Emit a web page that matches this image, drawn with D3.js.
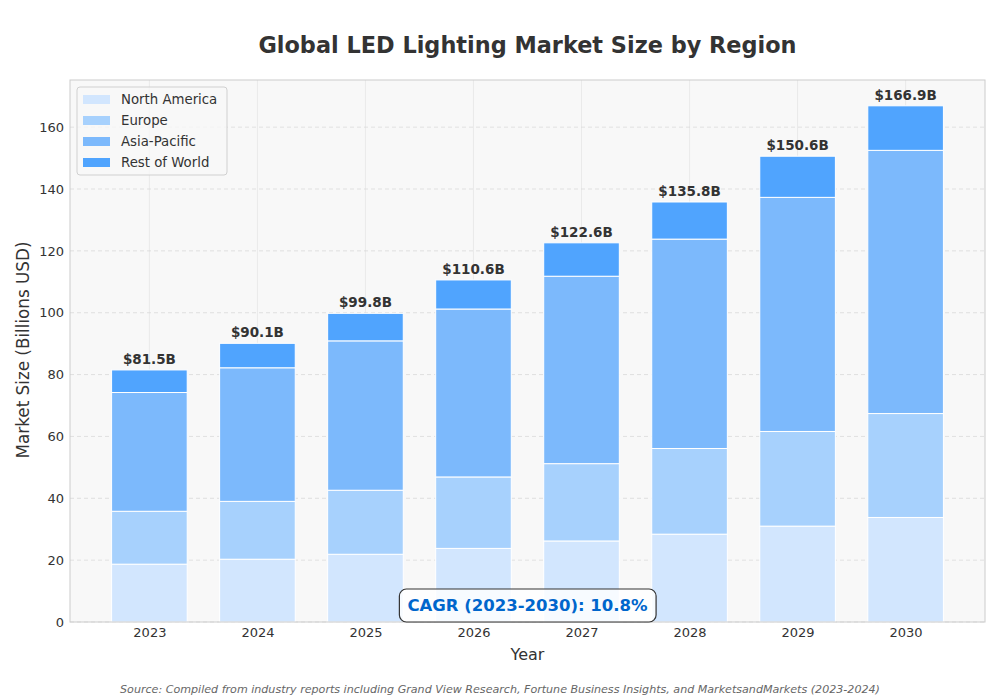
<!DOCTYPE html>
<html>
<head>
<meta charset="utf-8">
<script src="https://cdn.jsdelivr.net/npm/d3@7"></script>
<style>
  body { margin: 0; background: #ffffff; }
  svg { font-family: "DejaVu Sans", sans-serif; }
</style>
</head>
<body>
<svg id="chart" width="1000" height="700"></svg>
<script>
const years = ["2023", "2024", "2025", "2026", "2027", "2028", "2029", "2030"];
const seriesNames = ["North America", "Europe", "Asia-Pacific", "Rest of World"];
const northAmerica = [18.7, 20.3, 21.9, 23.8, 26.2, 28.4, 31.0, 33.8];
const europe       = [17.1, 18.7, 20.7, 23.1, 25.0, 27.7, 30.6, 33.6];
const asiaPacific  = [38.4, 43.2, 48.3, 54.3, 60.6, 67.7, 75.7, 85.1];
const restOfWorld  = [7.3, 7.9, 8.9, 9.4, 10.8, 12.0, 13.3, 14.4];
const totals       = [81.5, 90.1, 99.8, 110.6, 122.6, 135.8, 150.6, 166.9];
const yTicks = [0, 20, 40, 60, 80, 100, 120, 140, 160];
const colors = ["#d2e6fe", "#a7d1fd", "#7cb9fc", "#50a4fe"];

const svg = d3.select("#chart");
const W = 1000, H = 700;
const m = { left: 70, right: 15, top: 80, bottom: 78 };
const pw = W - m.left - m.right, ph = H - m.top - m.bottom;

const table = years.map((y, i) => ({
  year: y, i: i,
  "North America": northAmerica[i],
  "Europe": europe[i],
  "Asia-Pacific": asiaPacific[i],
  "Rest of World": restOfWorld[i],
  total: totals[i]
}));
const stacked = d3.stack().keys(seriesNames)(table);

const barW = 0.7;
const pad = (years.length - 1 + barW) * 0.05;
const x = d3.scaleLinear()
  .domain([-barW / 2 - pad, years.length - 1 + barW / 2 + pad])
  .range([m.left, m.left + pw]);
const yMax = d3.max(totals) * 1.05;
const y = d3.scaleLinear().domain([0, yMax]).range([m.top + ph, m.top]);

// plot background
svg.append("rect").attr("x", m.left).attr("y", m.top)
  .attr("width", pw).attr("height", ph).attr("fill", "#f8f8f8");

// vertical grid (solid)
svg.append("g").selectAll("line").data(years).join("line")
  .attr("x1", (d, i) => x(i)).attr("x2", (d, i) => x(i))
  .attr("y1", m.top).attr("y2", m.top + ph)
  .attr("stroke", "#e6e6e6").attr("stroke-width", 0.8);
// horizontal grid (dashed)
svg.append("g").selectAll("line").data(yTicks).join("line")
  .attr("x1", m.left).attr("x2", m.left + pw)
  .attr("y1", d => y(d)).attr("y2", d => y(d))
  .attr("stroke", "#d9d9d9").attr("stroke-width", 0.8)
  .attr("stroke-dasharray", "4,3");

// bars
const bw = x(barW) - x(0);
stacked.forEach((layer, k) => {
  svg.append("g").selectAll("rect").data(layer).join("rect")
    .attr("x", (d, i) => x(i) - bw / 2)
    .attr("width", bw)
    .attr("y", d => y(d[1]))
    .attr("height", d => y(d[0]) - y(d[1]))
    .attr("fill", colors[k])
    .attr("stroke", "#ffffff").attr("stroke-width", 1);
});

// total labels
svg.append("g").selectAll("text").data(table).join("text")
  .attr("x", d => x(d.i)).attr("y", d => y(d.total) - 6)
  .attr("text-anchor", "middle").attr("font-size", 13.5)
  .attr("font-weight", "bold").attr("fill", "#333")
  .text(d => "$" + d.total.toFixed(1) + "B");

// frame
svg.append("rect").attr("x", m.left).attr("y", m.top)
  .attr("width", pw).attr("height", ph)
  .attr("fill", "none").attr("stroke", "#cccccc").attr("stroke-width", 1);

// axes
const xAxis = d3.axisBottom(x).tickValues(d3.range(years.length))
  .tickFormat(i => years[i]).tickSize(0).tickPadding(6);
const gx = svg.append("g").attr("transform", `translate(0,${m.top + ph})`).call(xAxis);
gx.select(".domain").remove();
gx.selectAll("text").attr("font-size", 13).attr("fill", "#333")
  .attr("font-family", "DejaVu Sans, sans-serif");

const yAxis = d3.axisLeft(y).tickValues(yTicks).tickSize(0).tickPadding(6);
const gy = svg.append("g").attr("transform", `translate(${m.left},0)`).call(yAxis);
gy.select(".domain").remove();
gy.selectAll("text").attr("font-size", 13).attr("fill", "#333")
  .attr("font-family", "DejaVu Sans, sans-serif");

// title & axis labels
svg.append("text").attr("x", m.left + pw / 2).attr("y", 53)
  .attr("text-anchor", "middle").attr("font-size", 22.4).attr("font-weight", "bold")
  .attr("fill", "#333").text("Global LED Lighting Market Size by Region");
svg.append("text").attr("x", m.left + pw / 2).attr("y", 660)
  .attr("text-anchor", "middle").attr("font-size", 16).attr("fill", "#333").text("Year");
svg.append("text").attr("transform", `translate(29,${m.top + ph / 2 - 1}) rotate(-90)`)
  .attr("text-anchor", "middle").attr("font-size", 16.8).attr("fill", "#333")
  .text("Market Size (Billions USD)");

// CAGR box
const cagrG = svg.append("g");
const cagrText = cagrG.append("text").attr("x", m.left + pw / 2).attr("y", 611)
  .attr("text-anchor", "middle").attr("font-size", 16.5).attr("font-weight", "bold")
  .attr("fill", "#0066cc").text("CAGR (2023-2030): 10.8%");
const bb = cagrText.node().getBBox();
cagrG.insert("rect", "text")
  .attr("x", bb.x - 8).attr("y", 589).attr("width", bb.width + 16).attr("height", 33)
  .attr("rx", 7).attr("fill", "#ffffff").attr("fill-opacity", 0.82)
  .attr("stroke", "#333").attr("stroke-width", 1.2);

// legend
const lg = svg.append("g").attr("transform", "translate(77,87)");
lg.append("rect").attr("width", 150).attr("height", 88).attr("rx", 3)
  .attr("fill", "#f8f8f8").attr("fill-opacity", 0.8)
  .attr("stroke", "#d0d0d0").attr("stroke-width", 1);
seriesNames.forEach((s, k) => {
  const gy2 = 12 + k * 21;
  lg.append("rect").attr("x", 6).attr("y", gy2 - 4).attr("width", 27).attr("height", 9)
    .attr("fill", colors[k]);
  lg.append("text").attr("x", 44).attr("y", gy2 + 5).attr("font-size", 13.3)
    .attr("fill", "#333").text(s);
});

// source
svg.append("text").attr("x", 500).attr("y", 693).attr("text-anchor", "middle")
  .attr("font-size", 11.1).attr("font-style", "italic").attr("fill", "#666")
  .text("Source: Compiled from industry reports including Grand View Research, Fortune Business Insights, and MarketsandMarkets (2023-2024)");
</script>
</body>
</html>
